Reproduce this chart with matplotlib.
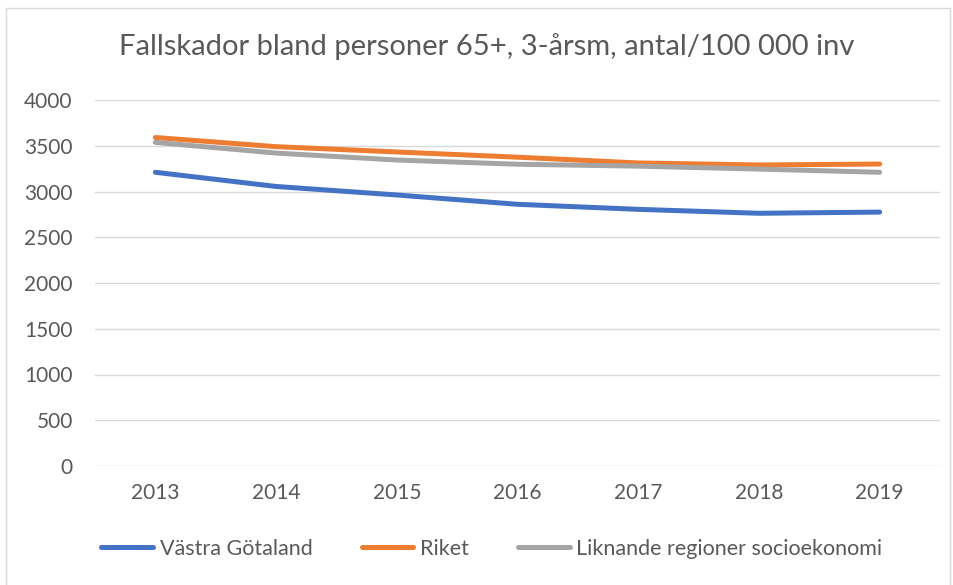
import matplotlib
matplotlib.use('Agg')
import matplotlib.pyplot as plt
from matplotlib.patches import Rectangle

# data
years = ['2013', '2014', '2015', '2016', '2017', '2018', '2019']
vastra_gotaland = [3210, 3055, 2962, 2860, 2805, 2762, 2775]
riket = [3590, 3490, 3432, 3375, 3312, 3290, 3300]
liknande = [3537, 3420, 3344, 3298, 3277, 3245, 3210]
series_names = ['Västra Götaland', 'Riket', 'Liknande regioner socioekonomi']
yticks = [0, 500, 1000, 1500, 2000, 2500, 3000, 3500, 4000]

plt.rcParams['font.family'] = ['Lato', 'DejaVu Sans']
txt = '#595959'

fig = plt.figure(figsize=(9.54, 5.85), dpi=100)
W, H = 954, 585

# light outer frame like the Excel chart area
fig.patches.append(Rectangle((6 / W, -0.01), 944 / W, 1 - 8 / H + 0.01,
                             transform=fig.transFigure, fill=False,
                             edgecolor='#D9D9D9', linewidth=1))

ax = fig.add_axes([95 / W, 1 - 466 / H, 845 / W, 366 / H])

x = list(range(len(years)))
ax.plot(x, vastra_gotaland, color='#4472C4', lw=3.6, solid_capstyle='round',
        solid_joinstyle='round', label=series_names[0])
ax.plot(x, riket, color='#ED7D31', lw=3.6, solid_capstyle='round',
        solid_joinstyle='round', label=series_names[1])
ax.plot(x, liknande, color='#A5A5A5', lw=3.6, solid_capstyle='round',
        solid_joinstyle='round', label=series_names[2])

ax.set_xlim(-0.5, len(years) - 0.5)
ax.set_ylim(0, 4000)
ax.set_yticks(yticks)
ax.set_xticks(x)
ax.set_xticklabels(years)
ax.grid(axis='y', color='#D9D9D9', linewidth=1)
ax.set_axisbelow(True)
for s in ax.spines.values():
    s.set_visible(False)
ax.tick_params(length=0, labelsize=15, colors=txt)
ax.tick_params(axis='y', pad=16)
ax.tick_params(axis='x', pad=12)

fig.text(487 / W, 1 - 47 / H, 'Fallskador bland personer 65+, 3-årsm, antal/100 000 inv',
         ha='center', va='center', fontsize=21, color=txt)

fig.legend(loc='center', bbox_to_anchor=(492 / W, 1 - 549 / H), ncol=3,
           frameon=False, fontsize=15.5, handlelength=2.4, handletextpad=0.3,
           columnspacing=2.3, labelcolor=txt)

fig.savefig('out.png', dpi=100)
